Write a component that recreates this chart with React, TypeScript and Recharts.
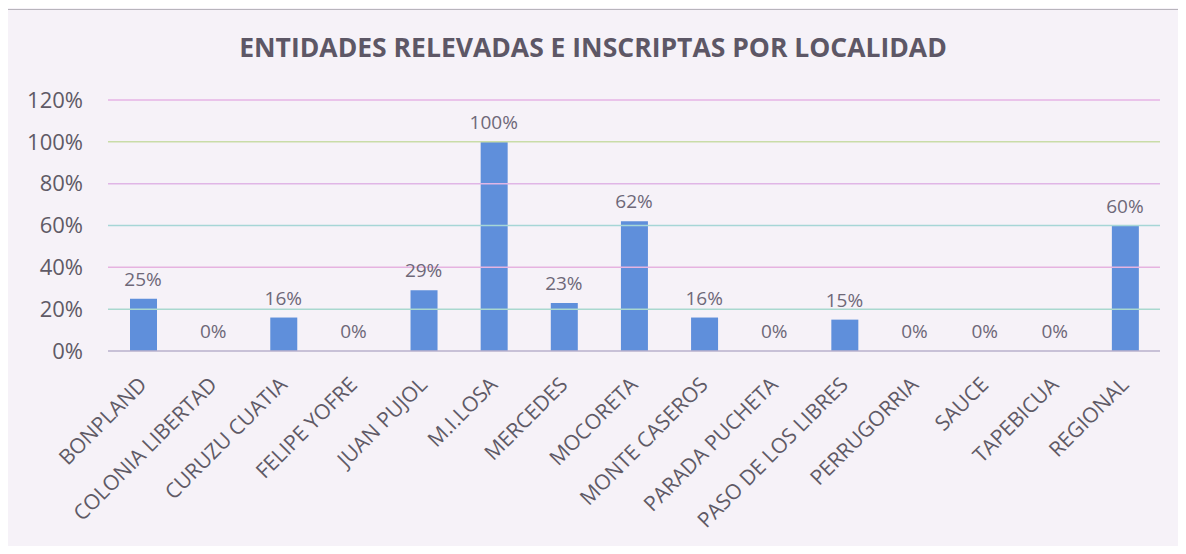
import { ComposedChart, Bar, Line, XAxis, YAxis, LabelList, ReferenceLine } from "recharts"

const localidades = [
  "BONPLAND",
  "COLONIA LIBERTAD",
  "CURUZU CUATIA",
  "FELIPE YOFRE",
  "JUAN PUJOL",
  "M.I.LOSA",
  "MERCEDES",
  "MOCORETA",
  "MONTE CASEROS",
  "PARADA PUCHETA",
  "PASO DE LOS LIBRES",
  "PERRUGORRIA",
  "SAUCE",
  "TAPEBICUA",
  "REGIONAL",
]
const porcentajes = [25, 0, 16, 0, 29, 100, 23, 62, 16, 0, 15, 0, 0, 0, 60]
const yTicks = [0, 20, 40, 60, 80, 100, 120]
// scanned gridlines pick up odd tints
const gridColors = ["#b9b0cc", "#a9d8cf", "#e6b3e0", "#a6d6d6", "#e0b6e6", "#c9dca8", "#e6b3e6"]

const data = localidades.map((name, i) => ({ name, valor: porcentajes[i] }))

const FONT = "'Open Sans', sans-serif"

function XTick(props: any) {
  const { x, y, payload } = props
  const ax = x + 5
  const ay = y + 27
  return (
    <text
      x={ax}
      y={ay}
      transform={`rotate(-45, ${ax}, ${ay})`}
      textAnchor="end"
      fontSize={21}
      fill="#5f5a66"
      fontFamily={FONT}
    >
      {payload.value}
    </text>
  )
}

export default function App() {
  return (
    <div
      style={{
        position: "relative",
        margin: -8,
        width: 1186,
        height: 554,
        background: "#f6f2f8",
        fontFamily: FONT,
        overflow: "hidden",
      }}
    >
      <div
        style={{
          position: "absolute",
          left: 7,
          top: 9,
          width: 1180,
          height: 560,
          border: "1.5px solid #b8b4bc",
          boxSizing: "border-box",
        }}
      />
      <div
        style={{
          position: "absolute",
          left: 0,
          width: 1186,
          top: 29,
          textAlign: "center",
          fontSize: 26.5,
          fontWeight: 700,
          color: "#5d5766",
        }}
      >
        ENTIDADES RELEVADAS E INSCRIPTAS POR LOCALIDAD
      </div>
      <div style={{ position: "absolute", left: 0, top: 0 }}>
        <ComposedChart
          width={1186}
          height={554}
          data={data}
          margin={{ top: 100, right: 26, bottom: 13, left: 0 }}
          barSize={27}
        >
          {yTicks.map((t, i) => (
            <ReferenceLine key={t} y={t} stroke={gridColors[i]} strokeWidth={1.5} />
          ))}
          <XAxis
            dataKey="name"
            interval={0}
            height={190}
            tick={<XTick />}
            tickLine={false}
            axisLine={false}
          />
          <YAxis
            width={108}
            domain={[0, 120]}
            ticks={yTicks}
            tickFormatter={(v) => `${v}%`}
            tickLine={false}
            axisLine={false}
            tickMargin={19}
            tick={{ fontSize: 22, fill: "#5f5a66", fontFamily: FONT }}
          />
          <Bar dataKey="valor" fill="#5f8fdb" isAnimationActive={false} />
          <Line
            dataKey="valor"
            stroke="none"
            dot={false}
            activeDot={false}
            legendType="none"
            isAnimationActive={false}
          >
            <LabelList
              dataKey="valor"
              position="top"
              offset={13}
              formatter={(v: any) => `${v}%`}
              style={{ fontSize: 19, fill: "#6e6878", fontFamily: FONT }}
            />
          </Line>
        </ComposedChart>
      </div>
    </div>
  )
}
